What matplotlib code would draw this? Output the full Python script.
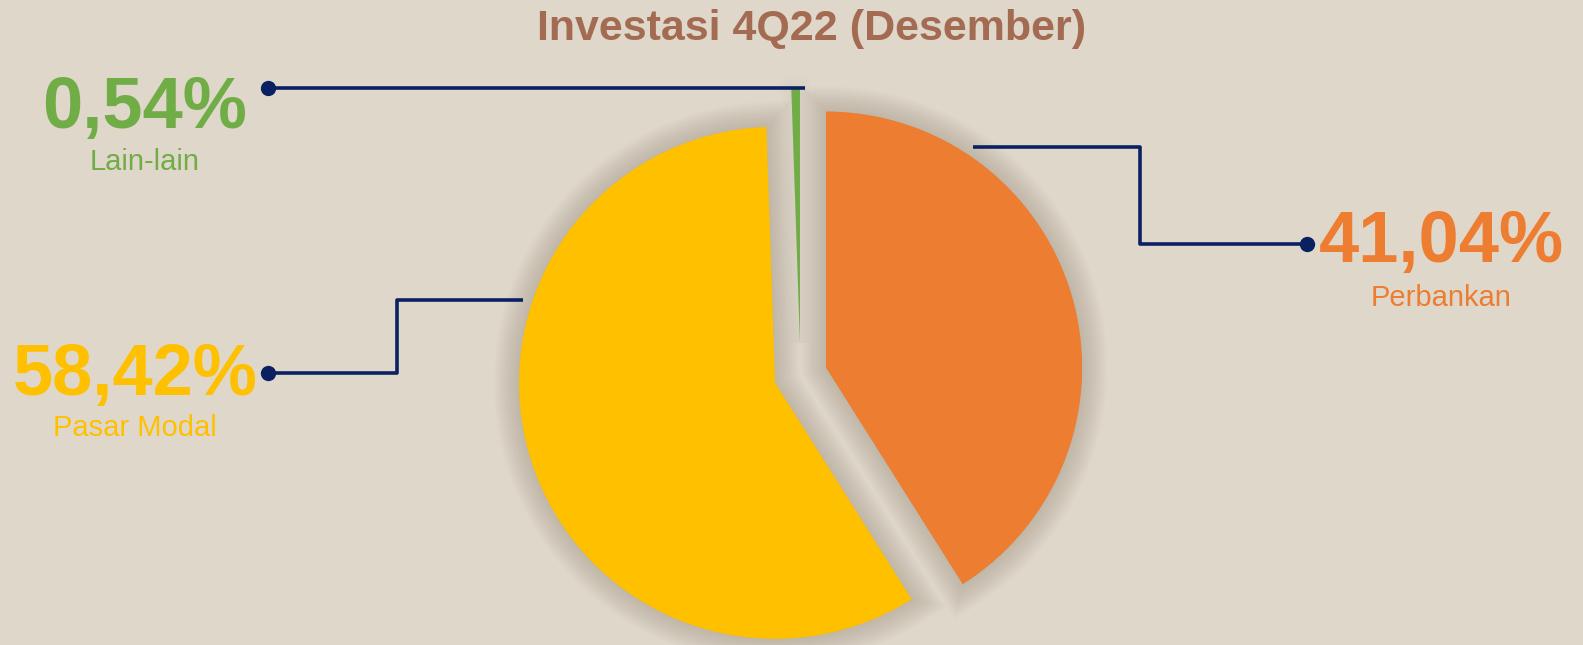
import matplotlib.pyplot as plt
import matplotlib.patheffects as pe

# data
labels = ["Perbankan", "Pasar Modal", "Lain-lain"]
values = [41.04, 58.42, 0.54]
value_text = ["41,04%", "58,42%", "0,54%"]
colors = ["#ED7D31", "#FFC000", "#70AD47"]

W, H = 1583, 645
R = 256
explode = [0.104 * R, 0.104 * R, 0.125 * R]  # matplotlib uses data units here
bg = "#DFD7CA"
navy = "#0A2161"

fig = plt.figure(figsize=(W / 100, H / 100), dpi=100, facecolor=bg)
ax = fig.add_axes([0, 0, 1, 1])
ax.set_facecolor(bg)


def py(y):
    # pixel row (from top) -> data y
    return H - y


# soft shadow made of stacked translucent strokes
shadow = [pe.Stroke(linewidth=w, foreground="#6a5c4a", alpha=0.02)
          for w in range(36, 0, -3)] + [pe.Normal()]
thin_shadow = [pe.Stroke(linewidth=w, foreground="#6a5c4a", alpha=0.012)
               for w in range(14, 0, -4)] + [pe.Normal()]

wedges, _ = ax.pie(values, colors=colors, explode=explode, startangle=90,
                   counterclock=False, center=(800.5, py(375)), radius=R,
                   wedgeprops=dict(linewidth=0))
wedges[0].set_path_effects(shadow)
wedges[1].set_path_effects(shadow)
wedges[2].set_path_effects(thin_shadow)

ax.set_xlim(0, W)
ax.set_ylim(0, H)
ax.set_aspect("equal")
ax.axis("off")

# leader lines (pixel coords)
lead = [
    ([973, 1140, 1140, 1307], [147, 147, 244, 244]),
    ([523, 397, 397, 268], [300, 300, 373, 373]),
    ([805, 268], [88, 88]),
]
for xs, ys in lead:
    ax.plot(xs, [py(v) for v in ys], color=navy, lw=2.6, solid_capstyle="butt", zorder=5)
    ax.plot(xs[-1], py(ys[-1]), "o", color=navy, ms=10, zorder=6)

# label positions: (x centre, y of value, y of name)
pos = [(1441, 243, 298), (135, 376, 428), (145, 109, 162)]
for (x, yv, yn), vt, lab, c in zip(pos, value_text, labels, colors):
    ax.text(x, py(yv), vt, color=c, fontsize=52, fontweight="bold",
            family="Liberation Sans", ha="center", va="center")
    ax.text(x, py(yn), lab, color=c, fontsize=21,
            family="Liberation Sans", ha="center", va="center")

ax.text(812, py(29), "Investasi 4Q22 (Desember)", color="#A36C52", fontsize=31,
        fontweight="bold", family=["Liberation Sans Narrow", "Liberation Sans"],
        ha="center", va="center")

fig.savefig("out.png", dpi=100, facecolor=bg)
